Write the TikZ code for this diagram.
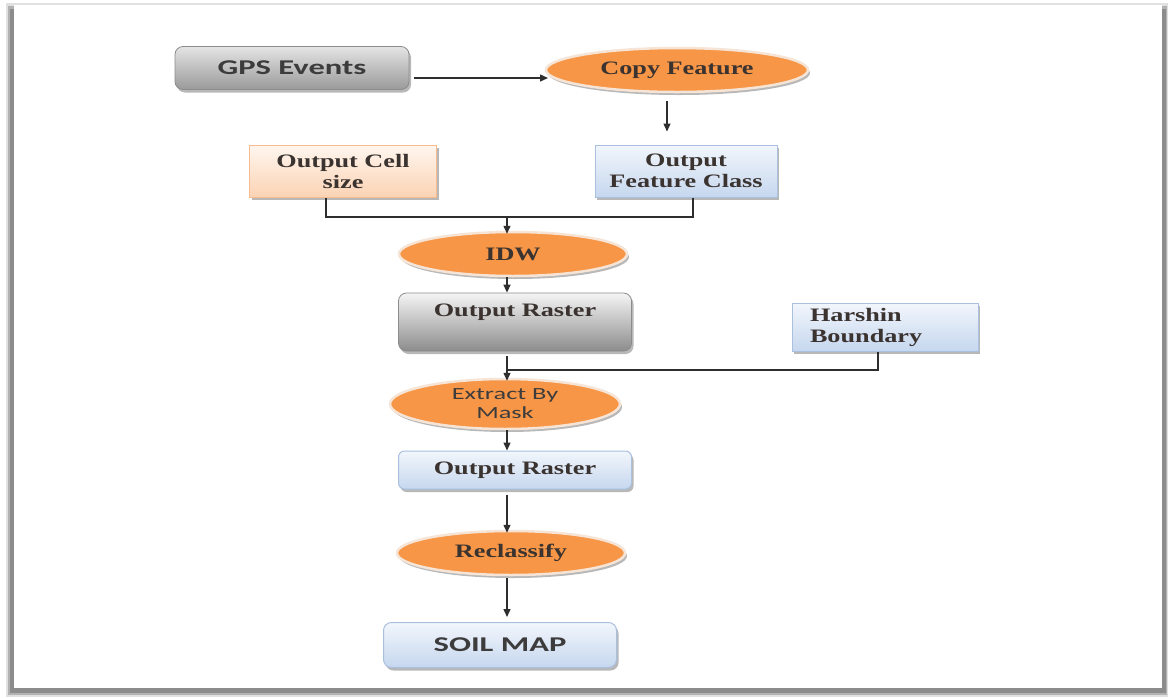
\documentclass[tikz,border=0pt]{standalone}
\usepackage{fontspec}
\usetikzlibrary{shapes.geometric,shadows,arrows.meta}
\newfontfamily\serifw[FakeStretch=1.38]{Liberation Serif}
\newfontfamily\sansw[FakeStretch=1.55]{Carlito}
\definecolor{orng}{HTML}{F79646}
\definecolor{rim}{HTML}{F6E4D6}
\definecolor{txt}{HTML}{3A3330}
\definecolor{stxt}{HTML}{3C3C3C}
\definecolor{bluetop}{HTML}{F2F6FC}
\definecolor{bluebot}{HTML}{C6D7EE}
\definecolor{blueln}{HTML}{A9C0DF}
\definecolor{peachtop}{HTML}{FFF6EF}
\definecolor{peachbot}{HTML}{FBD3B4}
\definecolor{peachln}{HTML}{F6BC90}
\definecolor{graytop}{HTML}{E4E4E4}
\definecolor{graybot}{HTML}{9A9A9A}
\definecolor{grayln}{HTML}{8C8C8C}
\definecolor{wire}{HTML}{2E2E2E}
\tikzset{
  every node/.style={inner sep=0pt},
  serif text/.style={font=\serifw\bfseries\fontsize{19}{21}\selectfont, text=txt, align=center},
  sans text/.style={font=\sansw\bfseries\fontsize{21}{23}\selectfont, text=stxt, align=center},
  soft shadow/.style={drop shadow={shadow xshift=2pt, shadow yshift=-3pt, fill=black, opacity=.28}},
  proc/.style={ellipse, fill=orng, draw=rim, line width=2.5pt, soft shadow, serif text},
  graybox/.style={rectangle, rounded corners=8pt, top color=graytop, bottom color=graybot, draw=grayln, line width=.8pt, soft shadow},
  bluebox/.style={rectangle, top color=bluetop, bottom color=bluebot, draw=blueln, line width=1pt, soft shadow, serif text},
  peachbox/.style={rectangle, top color=peachtop, bottom color=peachbot, draw=peachln, line width=1pt, soft shadow, serif text},
  wireline/.style={draw=wire, line width=1.4pt},
  arr/.style={wireline, -{Triangle[length=8pt,width=7pt]}},
}
\begin{document}
\begin{tikzpicture}[x=1pt, y=-1pt]
\useasboundingbox (0,0) rectangle (1168,697);
% page frame with soft shadow on left, right and bottom
\fill[black!12] (6,3) rectangle (1168,697);
\fill[black!30] (8,6) rectangle (1167,695);
\fill[black!45] (10,9) rectangle (1166,693);
\fill[white] (14,5) rectangle (1162,688);

% process chain
\node[graybox, sans text, minimum width=234, minimum height=43] (gps) at (292,68) {GPS Events};
\node[proc, minimum width=262, minimum height=44] (copy) at (677,70) {Copy Feature};
\node[peachbox, minimum width=187, minimum height=52] (ocs) at (343,171) {Output Cell\\size};
\node[bluebox, minimum width=182, minimum height=52] (ofc) at (686,171) {Output\\Feature Class};
\node[proc, minimum width=228, minimum height=44] (idw) at (513,254) {IDW};
\node[graybox, serif text, top color=white!96!black, bottom color=black!45, minimum width=233, minimum height=58, text depth=24pt] (rast1) at (515,322) {Output Raster};
\node[bluebox, align=left, text width=150, inner xsep=18pt, minimum height=48] (hb) at (885,327) {Harshin\\Boundary};
\node[proc, font=\sansw\fontsize{17}{19}\selectfont, text=stxt, minimum width=230, minimum height=50] (ebm) at (505,404) {Extract By\\Mask};
\node[bluebox, rounded corners=6pt, minimum width=233, minimum height=38] (rast2) at (515,470) {Output Raster};
\node[proc, minimum width=228, minimum height=44] (recl) at (511,553) {Reclassify};
\node[bluebox, sans text, rounded corners=8pt, minimum width=233, minimum height=45] (soil) at (500,645) {SOIL MAP};

% connectors
\coordinate (col) at (507,0);
\coordinate (j1) at (507,217);
\coordinate (j2) at (507,370);
\coordinate (feed) at (548,78);
\draw[arr] ([xshift=5pt]gps.east |- feed) -- (feed);
\draw[arr] ([xshift=-10pt,yshift=-8pt]copy.south) -- ([xshift=-19pt,yshift=13pt]ofc.north);
\draw[wireline] ([xshift=-17pt]ocs.south) |- (j1);
\draw[wireline] ([xshift=7pt]ofc.south) |- (j1);
\draw[arr] (j1) -- ([yshift=-3pt]j1 |- idw.north);
\draw[arr] (col |- idw.south) -- (col |- rast1.north);
\draw[arr] ([yshift=-5pt]col |- rast1.south) -- ([yshift=-3pt]col |- ebm.north);
\draw[wireline] ([xshift=-7pt]hb.south) |- (j2);
\draw[arr] (col |- ebm.south) -- (col |- rast2.north);
\draw[arr] ([yshift=-5pt]col |- rast2.south) -- ([yshift=-3pt]col |- recl.north);
\draw[arr] ([yshift=-2pt]col |- recl.south) -- ([yshift=5pt]col |- soil.north);
\end{tikzpicture}
\end{document}
